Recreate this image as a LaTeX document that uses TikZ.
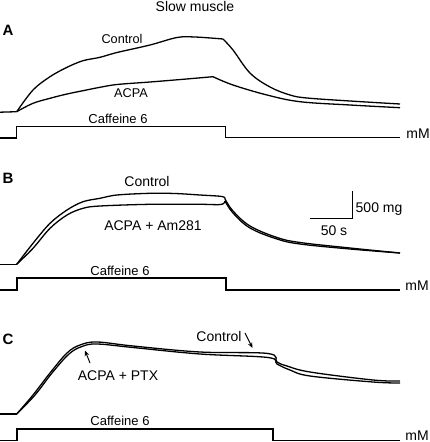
\documentclass[tikz,border=0pt]{standalone}
\usepackage{fontspec}
\setmainfont{Liberation Sans}
\usetikzlibrary{arrows.meta}
\begin{document}
\begin{tikzpicture}[x=1pt,y=-1pt,
  trace/.style={line width=1.3pt,line join=round},
  stim/.style={line width=1.3pt},
  lbl/.style={inner sep=0pt,anchor=base,font=\fontsize{14}{16}\selectfont},
  lblsm/.style={inner sep=0pt,anchor=base,font=\fontsize{12.7}{15}\selectfont},
  caf/.style={inner sep=0pt,anchor=base,font=\fontsize{13}{15}\selectfont},
  panel/.style={inner sep=0pt,anchor=base,font=\fontsize{15}{17}\selectfont\bfseries},
  ptr/.style={line width=1pt,-{Stealth[length=5.5pt,width=4.5pt]}}]
\useasboundingbox (0,0) rectangle (430,442);
\node[lbl] (title) at (195,11) {Slow muscle};
% ---------------- Panel A
\node[panel] (pA) at (8,35) {A};
\draw[trace] (0,112.2) -- (16.7,111.7);
\draw[trace] plot[smooth,tension=0.55] coordinates {(16.7,111.7) (33,90) (50,76.7) (67,67.3) (83,60.7) (100,57.3) (117,52.5) (150,45) (177,37.5) (195,37) (223,39)};
\draw[trace] plot[smooth,tension=0.6] coordinates {(223,39) (233,50) (250,73) (270,87) (290,95) (307,98) (350,101) (400,104)};
\draw[trace] plot[smooth,tension=0.55] coordinates {(16.7,111.7) (33,103.3) (50,98.3) (67,94) (83,90.7) (100,87.3) (117,84.5) (150,82) (183,79.3) (213,76.7)};
\draw[trace] plot[smooth,tension=0.6] coordinates {(213,76.7) (233,85) (267,95) (300,101.7) (350,105) (400,107.7)};
\node[lblsm] (ctlA) at (122,43.5) {Control};
\node[lblsm] (acpaA) at (131,97.5) {ACPA};
\draw[stim] (0,138) -- (16.7,138) -- (16.7,126.7) -- (225.7,126.7) -- (225.7,137.3) -- (400,137.3);
\node[caf] (cafA) at (118,123) {Caffeine 6};
\node[lbl] (mmA) at (418,138.3) {mM};
% ---------------- Panel B
\node[panel] (pB) at (8,183) {B};
\draw[trace] (0,264.3) -- (16.7,264.3);
\draw[trace] plot[smooth,tension=0.55] coordinates {(16.7,264.3) (33,243.3) (50,223.3) (67,210) (83,201.7) (100,198.3) (117,195) (150,193.3) (175,193.5) (200,195) (222,196.5) (225,199)};
\draw[trace] plot[smooth,tension=0.55] coordinates {(16.7,264.3) (33,248.3) (50,228.3) (67,215) (83,208.3) (100,206) (150,204.3) (200,204.3) (221,204.5) (225,201)};
\draw[trace] plot[smooth,tension=0.6] coordinates {(225,199) (233,211) (250,226) (277,237.5) (300,242.5) (350,248) (400,253)};
\draw[trace] plot[smooth,tension=0.6] coordinates {(225,201) (233,213) (250,228) (277,239) (300,244) (350,249) (400,253)};
\node[lbl] (ctlB) at (147,186) {Control};
\node[lbl] (acpaB) at (153,230) {ACPA + Am281};
\coordinate (sbtop) at (352,191);
\coordinate (sbcorner) at (352,218);
\coordinate (sbleft) at (310,218);
\draw[line width=1pt] (sbtop) -- (sbcorner) -- (sbleft);
\node[lbl,anchor=base west] (mg) at (355.5,212) {500 mg};
\node[lbl] (sec) at (334,235) {50 s};
\draw[stim] (0,290) -- (17,290) -- (17,278) -- (226,278) -- (226,290) -- (400,290);
\node[caf] (cafB) at (120,275) {Caffeine 6};
\node[lbl] (mmB) at (417,290) {mM};
% ---------------- Panel C
\node[panel] (pC) at (8,344) {C};
\draw[trace] (0,414) -- (16.7,414);
\draw[trace] plot[smooth,tension=0.6] coordinates {(16.7,414) (33,395) (50,373) (67,353) (80,345) (97,342) (133,346) (200,352) (268,353.5) (277,362) (287,366) (310,372) (373,380) (400,381)};
\draw[trace] plot[smooth,tension=0.6] coordinates {(16.7,414) (35,395) (52,373) (69,354) (82,346.5) (97,344) (133,347.5) (200,354) (268,357.5) (277,364) (290,370) (310,376) (373,382) (400,383)};
\node[lbl] (ctlC) at (219,341.7) {Control};
\node[lbl] (acpaC) at (118,380) {ACPA + PTX};
\coordinate (ctlCfrom) at (245,333);
\coordinate (ctlCto) at (252.5,348);
\coordinate (acpaCfrom) at (90,363);
\coordinate (acpaCto) at (85,350.5);
\draw[ptr] (ctlCfrom) -- (ctlCto);
\draw[ptr] (acpaCfrom) -- (acpaCto);
\draw[stim] (0,440.5) -- (17,440.5) -- (17,429) -- (273,429) -- (273,440.5) -- (400,440.5);
\node[caf] (cafC) at (120,425.7) {Caffeine 6};
\node[lbl] (mmC) at (417,440.3) {mM};
\end{tikzpicture}
\end{document}
